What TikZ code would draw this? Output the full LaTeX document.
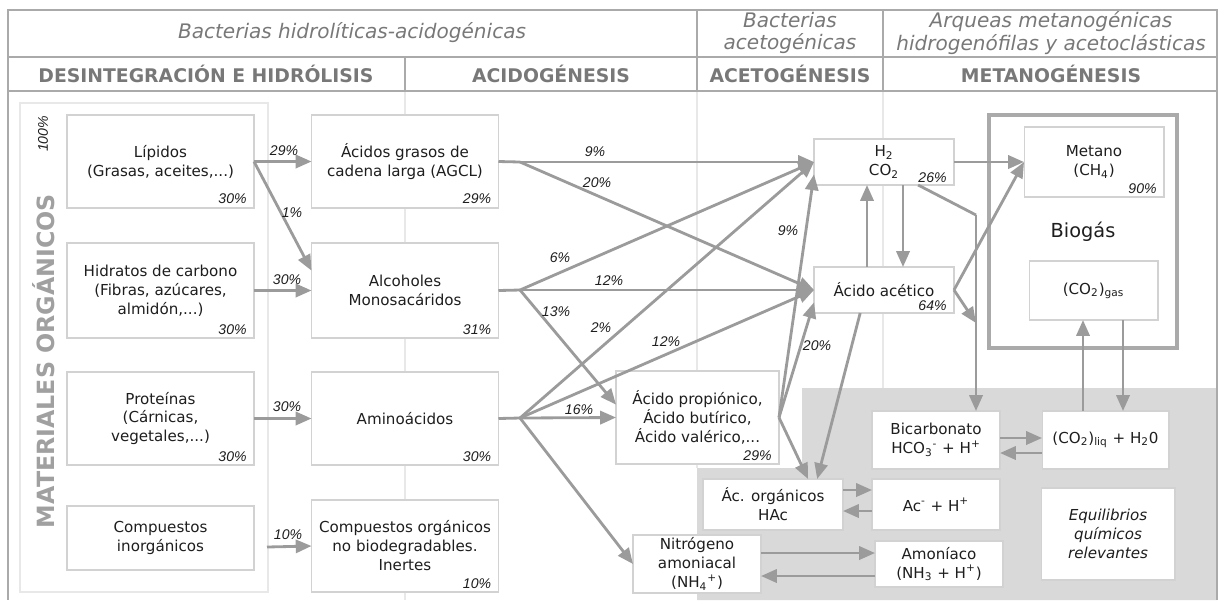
\documentclass[tikz,border=0pt]{standalone}
\usepackage{fontspec}
\setmainfont{DejaVu Sans}
\newfontfamily\pctfont{Liberation Sans}
\usetikzlibrary{arrows.meta}

\definecolor{arrowgray}{RGB}{155,155,155}
\definecolor{boxline}{RGB}{210,210,210}
\definecolor{zonegray}{RGB}{217,217,217}
\definecolor{headgray}{RGB}{120,120,120}
\definecolor{matgray}{RGB}{160,160,160}
\definecolor{framegray}{RGB}{170,170,170}
\definecolor{gridgray}{RGB}{232,232,232}
\definecolor{txt}{RGB}{30,30,30}

\tikzset{
  box/.style={draw=boxline, fill=white, line width=0.6pt, inner sep=0pt, outer sep=0pt,
    align=center, text=txt, font=\fontsize{8.6}{10.8}\selectfont},
  colA/.style={box, minimum width=3.74cm},
  pct/.style={font=\pctfont\itshape\fontsize{8}{9}\selectfont, text=txt, inner sep=1pt},
  arr/.style={draw=arrowgray, line width=1.6pt, -{Triangle[length=9pt,width=7.5pt]}},
  ln/.style={draw=arrowgray, line width=1.6pt},
  head/.style={text=headgray, font=\itshape\fontsize{11.4}{13}\selectfont, align=center},
  phase/.style={text=headgray, font=\bfseries\fontsize{10.7}{12}\selectfont},
  rule/.style={draw=framegray, line width=0.8pt},
  faint/.style={draw=gridgray, line width=0.6pt},
}

\begin{document}
\begin{tikzpicture}[x=0.02cm,y=-0.02cm]
\useasboundingbox (0,0) rectangle (1223,600);

% fondo
\fill[zonegray] (697,468) -- (802,468) -- (802,388) -- (1217,388) -- (1217,600) -- (697,600) -- cycle;
\draw[faint] (405,91) -- (405,600) (697,91) -- (697,468) (883,91) -- (883,388);
\draw[faint] (20,103) rectangle (268,592);

% marco y cabeceras
\draw[rule, line width=1.1pt] (8,600) -- (8,10) -- (1217,10) -- (1217,600);
\draw[rule] (8,57) -- (1217,57) (8,91) -- (1217,91);
\draw[rule] (405,57) -- (405,91) (697,10) -- (697,91) (883,10) -- (883,91);

\node[head] (hbha) at (352,33) {Bacterias hidrolíticas-acidogénicas};
\node[head] (hbac) at (790,33) {Bacterias\\acetogénicas};
\node[head] (harq) at (1051,33) {Arqueas metanogénicas\\hidrogenófilas y acetoclásticas};
\node[phase] (fdes) at (206,74) {DESINTEGRACIÓN E HIDRÓLISIS};
\node[phase] (facid) at (551,74) {ACIDOGÉNESIS};
\node[phase] (facet) at (790,74) {ACETOGÉNESIS};
\node[phase] (fmet) at (1051,74) {METANOGÉNESIS};

\node[rotate=90, text=matgray, font=\bfseries\fontsize{13.5}{15}\selectfont] (mat) at (44,361) {MATERIALES ORGÁNICOS};
\node[pct, rotate=90] (p100) at (43,134) {100\%};

% biogas
\draw[draw=framegray, line width=2.2pt] (989,115) rectangle (1177,348);
\node[font=\fontsize{11}{13}\selectfont, text=txt] (bio) at (1083,232) {Biogás};

% materiales organicos
\node[colA, minimum height=1.86cm] (lip) at (160.5,161.5) {Lípidos\\(Grasas, aceites,...)};
\node[colA, minimum height=1.9cm] (hid) at (160.5,290.5) {Hidratos de carbono\\(Fibras, azúcares,\\almidón,...)};
\node[colA, minimum height=1.86cm] (pro) at (160.5,418.5) {Proteínas\\(Cárnicas,\\vegetales,...)};
\node[colA, minimum height=1.28cm] (ino) at (160.5,538) {Compuestos\\inorgánicos};

% acidogenesis
\node[colA, minimum height=1.86cm] (agcl) at (405,161.5) {Ácidos grasos de\\cadena larga (AGCL)};
\node[colA, minimum height=1.9cm] (alc) at (405,290.5) {Alcoholes\\Monosacáridos};
\node[colA, minimum height=1.86cm] (ami) at (405,418.5) {Aminoácidos};
\node[colA, minimum height=1.84cm] (cor) at (405,546) {Compuestos orgánicos\\no biodegradables.\\Inertes};

\node[box, minimum width=3.26cm, minimum height=1.86cm] (acp) at (697.5,417.5) {Ácido propiónico,\\Ácido butírico,\\Ácido valérico,...};
\node[box, minimum width=2.56cm, minimum height=1.16cm] (nit) at (697,564) {Nitrógeno\\amoniacal\\(NH\textsubscript{4}\textsuperscript{+})};
\node[box, minimum width=2.8cm, minimum height=1.02cm] (hac) at (773,504.5) {Ác. orgánicos\\HAc};

% acetogenesis y metanogenesis
\node[box, minimum width=2.8cm, minimum height=0.92cm] (h2) at (884,162) {H\textsubscript{2}\\CO\textsubscript{2}};
\node[box, minimum width=2.8cm, minimum height=0.92cm] (ace) at (884,290) {Ácido acético};
\node[box, minimum width=2.8cm, minimum height=1.4cm] (met) at (1094,162) {Metano\\(CH\textsubscript{4})};
\node[box, minimum width=2.58cm, minimum height=1.18cm] (gas) at (1093.5,290.5) {(CO\textsubscript{2})\textsubscript{gas}};

% equilibrios
\node[box, minimum width=2.56cm, minimum height=1.16cm] (bic) at (936,440) {Bicarbonato\\HCO\textsubscript{3}\textsuperscript{-} + H\textsuperscript{+}};
\node[box, minimum width=2.54cm, minimum height=1.16cm] (liq) at (1105.5,440) {(CO\textsubscript{2})\textsubscript{liq} + H\textsubscript{2}0};
\node[box, minimum width=2.56cm, minimum height=1.02cm] (acm) at (936,504.5) {Ac\textsuperscript{-} + H\textsuperscript{+}};
\node[box, minimum width=2.56cm, minimum height=0.92cm] (amo) at (939,564) {Amoníaco\\(NH\textsubscript{3} + H\textsuperscript{+})};
\node[box, minimum width=2.68cm, minimum height=1.84cm, font=\fontsize{8.6}{10.8}\selectfont\itshape] (equ) at (1108,534) {Equilibrios\\químicos\\relevantes};

% porcentajes en cajas
\node[pct, anchor=south east] (plip) at ([xshift=-3pt,yshift=1pt]lip.south east) {30\%};
\node[pct, anchor=south east] (phid) at ([xshift=-3pt,yshift=1pt]hid.south east) {30\%};
\node[pct, anchor=south east] (ppro) at ([xshift=-3pt,yshift=1pt]pro.south east) {30\%};
\node[pct, anchor=south east] (pagcl) at ([xshift=-3pt,yshift=1pt]agcl.south east) {29\%};
\node[pct, anchor=south east] (palc) at ([xshift=-3pt,yshift=1pt]alc.south east) {31\%};
\node[pct, anchor=south east] (pami) at ([xshift=-3pt,yshift=1pt]ami.south east) {30\%};
\node[pct, anchor=south east] (pcor) at ([xshift=-3pt,yshift=1pt]cor.south east) {10\%};
\node[pct, anchor=south east] (pacp) at ([xshift=-3pt,yshift=1pt]acp.south east) {29\%};
\node[pct, anchor=south east] (ph2) at ([xshift=-3pt,yshift=0pt]h2.south east) {26\%};
\node[pct, anchor=south east] (pace) at ([xshift=-3pt,yshift=0pt]ace.south east) {64\%};
\node[pct, anchor=south east] (pmet) at ([xshift=-3pt,yshift=1pt]met.south east) {90\%};

% hidrolisis
\coordinate (inoout) at (267,547);
\draw[arr] (lip.east) -- (agcl.west);
\draw[arr] (lip.east) -- (alc.168);
\draw[arr] (hid.east) -- (alc.west);
\draw[arr] (pro.east) -- (ami.west);
\draw[arr] (inoout) -- (cor.west);

% acidogenesis
\coordinate (bagcl) at (520,162);
\coordinate (balc) at (520,290);
\coordinate (bami) at (520,418);
\draw[ln] (agcl.east) -- (bagcl);
\draw[ln] (alc.east) -- (balc);
\draw[ln] (ami.east) -- (bami);
\draw[arr] (bagcl) -- (h2.west);
\draw[arr] (bagcl) -- (ace.west);
\draw[arr] (balc) -- (h2.west);
\draw[arr] (balc) -- (ace.west);
\draw[arr] (balc) -- (acp.171);
\draw[arr] (bami) -- (h2.west);
\draw[arr] (bami) -- (ace.west);
\draw[arr] (bami) -- (acp.west);
\draw[arr] (bami) -- (nit.west);

% acetogenesis
\coordinate (hup) at (867,0);
\coordinate (hdn) at (903,0);
\draw[arr] (acp.east) -- (h2.190);
\draw[arr] (acp.east) -- (ace.190);
\draw[arr] (acp.east) -- (hac.36);
\draw[arr] (ace.224) -- (hac.30);
\draw[arr] (hup |- ace.north) -- (hup |- h2.south);
\draw[arr] (hdn |- h2.south) -- (hdn |- ace.north);

% metanogenesis
\coordinate (kink) at (976,215);
\coordinate (join) at (976,323);
\coordinate (gup) at (1083,0);
\coordinate (gdn) at (1123,0);
\draw[arr] (h2.east) -- (met.west);
\draw[arr] (ace.east) -- (met.west);
\draw[ln] (h2.326) -- (kink);
\draw[arr] (kink) -- (kink |- bic.north);
\draw[arr] (ace.east) -- (join);
\draw[arr] (gup |- liq.north) -- (gup |- gas.south);
\draw[arr] (gdn |- gas.south) -- (gdn |- liq.north);

% equilibrios
\draw[arr] ([yshift=0.04cm]bic.east) -- ([yshift=0.04cm]liq.west);
\draw[arr] ([yshift=-0.26cm]liq.west) -- ([yshift=-0.26cm]bic.east);
\draw[arr] ([yshift=0.29cm]hac.east) -- ([yshift=0.29cm]acm.west);
\draw[arr] ([yshift=-0.13cm]acm.west) -- ([yshift=-0.13cm]hac.east);
\draw[arr] ([yshift=0.22cm]nit.east) -- ([yshift=0.22cm]amo.west);
\draw[arr] ([yshift=-0.24cm]amo.west) -- ([yshift=-0.24cm]nit.east);

% porcentajes en flechas
\node[pct] (l29) at (284,151) {29\%};
\node[pct] (l1) at (292,213) {1\%};
\node[pct] (l30a) at (287,280) {30\%};
\node[pct] (l30b) at (287,407) {30\%};
\node[pct] (l10) at (288,535) {10\%};
\node[pct] (l9a) at (595,152) {9\%};
\node[pct] (l20a) at (597,183) {20\%};
\node[pct] (l6) at (560,258) {6\%};
\node[pct] (l12a) at (609,281) {12\%};
\node[pct] (l13) at (556,312) {13\%};
\node[pct] (l2) at (601,328) {2\%};
\node[pct] (l12b) at (666,342) {12\%};
\node[pct] (l16) at (579,410) {16\%};
\node[pct] (l9b) at (788,231) {9\%};
\node[pct] (l20b) at (817,346) {20\%};
\end{tikzpicture}
\end{document}
